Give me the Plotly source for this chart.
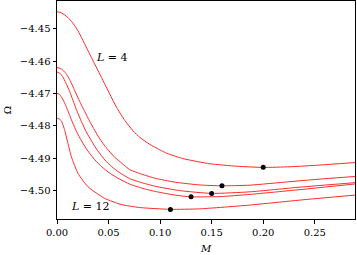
import plotly.graph_objects as go

# Curve data (M, Omega)
M1 = [0.0, 0.00456, 0.0107, 0.01524, 0.0204, 0.0301, 0.0398, 0.0495, 0.0577, 0.06578, 0.0738, 0.08029, 0.0900, 0.09971, 0.1065, 0.12204, 0.14825, 0.17447, 0.2000, 0.22592, 0.25505, 0.289]
O1 = [-4.44468, -4.44508, -4.44652, -4.44815, -4.45062, -4.45677, -4.46292, -4.46908, -4.47422, -4.47831, -4.48154, -4.48354, -4.48569, -4.48738, -4.48846, -4.49009, -4.49169, -4.49246, -4.49283, -4.49262, -4.49209, -4.49132]

M2 = [0.0, 0.00456, 0.00845, 0.01233, 0.01718, 0.02204, 0.02689, 0.03175, 0.03660, 0.04146, 0.04825, 0.05602, 0.06282, 0.07058, 0.08223, 0.09485, 0.11427, 0.13854, 0.16, 0.18709, 0.22592, 0.25990, 0.289]
O2 = [-4.46191, -4.46246, -4.46369, -4.46569, -4.46908, -4.47246, -4.47554, -4.47862, -4.48138, -4.48400, -4.48692, -4.48969, -4.49154, -4.49354, -4.49492, -4.49615, -4.49738, -4.49825, -4.49852, -4.49831, -4.49723, -4.49631, -4.49563]

M3 = [0.0, 0.00262, 0.00553, 0.00845, 0.01233, 0.01553, 0.01913, 0.02369, 0.02786, 0.03369, 0.03951, 0.04631, 0.05311, 0.06087, 0.07058, 0.08223, 0.09485, 0.11913, 0.1499, 0.18709, 0.23563, 0.289]
O3 = [-4.46332, -4.46369, -4.46477, -4.46662, -4.46938, -4.47215, -4.47523, -4.47862, -4.48154, -4.48477, -4.48769, -4.49046, -4.49262, -4.49446, -4.49631, -4.49754, -4.49862, -4.50000, -4.50086, -4.50037, -4.49892, -4.49754]

M4 = [0.0, 0.00262, 0.00553, 0.00845, 0.01233, 0.01524, 0.01913, 0.02398, 0.02981, 0.03660, 0.04340, 0.05117, 0.06087, 0.07058, 0.08223, 0.09485, 0.11427, 0.1295, 0.15796, 0.18709, 0.23563, 0.289]
O4 = [-4.46991, -4.47031, -4.47169, -4.47369, -4.47677, -4.47908, -4.48185, -4.48477, -4.48769, -4.49046, -4.49262, -4.49462, -4.49646, -4.49800, -4.49923, -4.50022, -4.50138, -4.50191, -4.50185, -4.50117, -4.49969, -4.49794]

M5 = [0.0, 0.00214, 0.0043, 0.0075, 0.0107, 0.0140, 0.0204, 0.0301, 0.0463, 0.0625, 0.08029, 0.1100, 0.1385, 0.18709, 0.23563, 0.289]
O5 = [-4.47760, -4.47785, -4.47846, -4.48138, -4.48548, -4.48960, -4.49471, -4.49883, -4.50240, -4.50431, -4.50523, -4.50578, -4.50563, -4.50446, -4.50292, -4.50138]

# Minima markers
min_M = [0.20, 0.16, 0.15, 0.13, 0.11]
min_O = [-4.4928, -4.4985, -4.5009, -4.5019, -4.5058]

# Axis ticks
x_ticks = [0.00, 0.05, 0.10, 0.15, 0.20, 0.25]
x_ticktext = ["0.00", "0.05", "0.10", "0.15", "0.20", "0.25"]
y_ticks = [-4.45, -4.46, -4.47, -4.48, -4.49, -4.50]
y_ticktext = ["\u22124.45", "\u22124.46", "\u22124.47", "\u22124.48", "\u22124.49", "\u22124.50"]

FONT = "DejaVu Serif"

fig = go.Figure()
for mx, oy in [(M1, O1), (M2, O2), (M3, O3), (M4, O4), (M5, O5)]:
    fig.add_trace(go.Scatter(x=mx, y=oy, mode="lines",
                             line=dict(color="#ff2a2a", width=1, shape="spline", smoothing=0.5),
                             showlegend=False, hoverinfo="skip"))
fig.add_trace(go.Scatter(x=min_M, y=min_O, mode="markers",
                         marker=dict(color="black", size=5), showlegend=False))

fig.add_annotation(x=0.0532, y=-4.4589, text="<i>L</i> = 4", showarrow=False,
                   font=dict(family=FONT, size=11, color="black"))
fig.add_annotation(x=0.0327, y=-4.5048, text="<i>L</i> = 12", showarrow=False,
                   font=dict(family=FONT, size=11, color="black"))

axis_common = dict(showgrid=False, zeroline=False, showline=True, linecolor="black",
                   linewidth=1, mirror=True, ticks="outside", ticklen=3.5, tickwidth=1,
                   tickcolor="black", automargin=False,
                   tickfont=dict(family=FONT, size=10, color="black"))

fig.update_layout(
    width=357, height=255,
    margin=dict(l=57, r=2, t=1, b=36),
    plot_bgcolor="white", paper_bgcolor="white",
    xaxis=dict(range=[0, 0.289], tickvals=x_ticks, ticktext=x_ticktext,
               title=dict(text="<i>M</i>", font=dict(family=FONT, size=10, color="black"), standoff=8),
               **axis_common),
    yaxis=dict(range=[-4.50877, -4.44138], tickvals=y_ticks, ticktext=y_ticktext,
               title=dict(text="\u03a9", font=dict(family=FONT, size=10, color="black"), standoff=6),
               **axis_common),
)

fig.write_html("out.html", config={"displayModeBar": False},
               post_script="document.body.style.margin='0';")
